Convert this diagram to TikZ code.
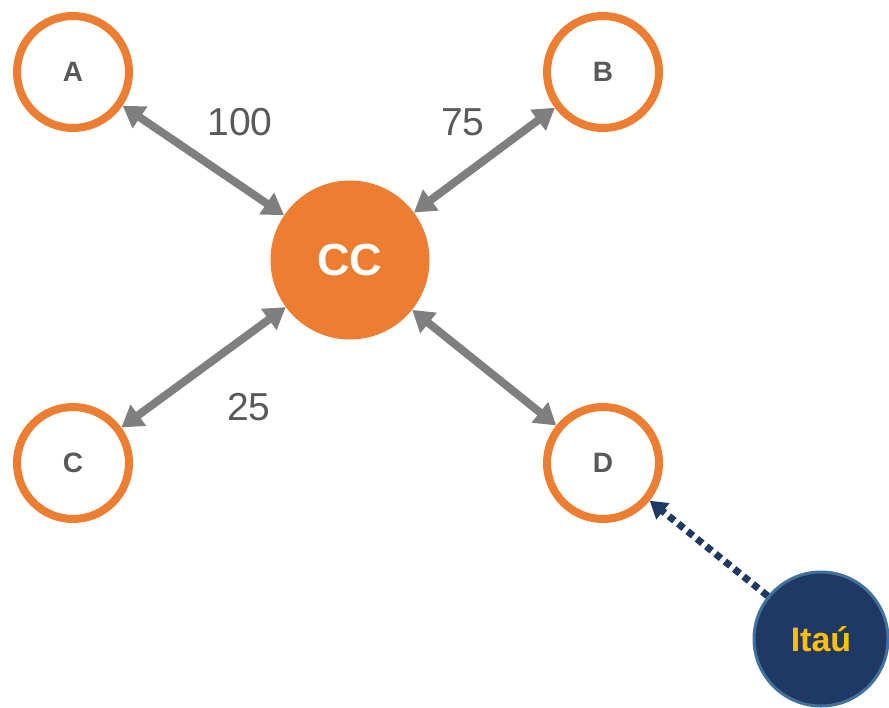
\documentclass[tikz,border=0pt]{standalone}
\usepackage{fontspec}
\setmainfont{Liberation Sans}
\usetikzlibrary{arrows.meta}
\definecolor{accent}{HTML}{ED7D31}
\definecolor{linkgray}{HTML}{7F7F7F}
\definecolor{textgray}{HTML}{595959}
\definecolor{navy}{HTML}{203864}
\definecolor{navyedge}{HTML}{41719C}
\definecolor{gold}{HTML}{FFC000}
\tikzset{
  party/.style={circle, draw=accent, line width=8pt, fill=white, minimum size=112pt, inner sep=0pt,
    text=textgray, font=\fontsize{28}{28}\selectfont\bfseries},
  hub/.style={circle, fill=accent, minimum size=159pt, inner sep=0pt,
    text=white, font=\fontsize{45}{45}\selectfont\bfseries},
  bank/.style={circle, draw=navyedge, line width=3pt, fill=navy, minimum size=134pt, inner sep=0pt,
    text=gold, font=\fontsize{34}{34}\selectfont\bfseries},
  link/.style={draw=linkgray, line width=8pt, {Triangle[length=21pt,width=25pt]}-{Triangle[length=21pt,width=25pt]}},
  feed/.style={draw=navy, line width=7pt, dash pattern=on 7pt off 5pt, -{Triangle[length=17pt,width=20pt]}},
  amount/.style={text=textgray, font=\fontsize{39}{39}\selectfont}
}
\begin{document}
\begin{tikzpicture}[x=1pt,y=-1pt]
  \useasboundingbox (0,0) rectangle (889,707);
  \node[hub] (cc) at (350,260) {CC};
  \node[party] (a) at (73,72) {A};
  \node[party] (b) at (603,72) {B};
  \node[party] (c) at (73,463) {C};
  \node[party] (d) at (603,463) {D};
  \node[bank] (itau) at (821,639) {Itaú};

  \draw[link] (a) -- (cc);
  \draw[link] (b) -- (cc);
  \draw[link] (c) -- (cc);
  \draw[link] (d) -- (cc);
  \draw[feed] (itau) -- (d);

  \node[amount] (l100) at (240,122) {100};
  \node[amount] (l75) at (463,122) {75};
  \node[amount] (l25) at (249,407) {25};
\end{tikzpicture}
\end{document}
